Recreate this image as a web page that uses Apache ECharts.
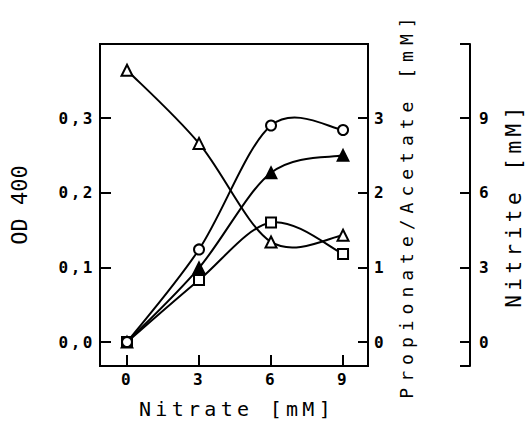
<!DOCTYPE html>
<html>
<head>
<meta charset="utf-8">
<script src="https://cdn.jsdelivr.net/npm/echarts@6/dist/echarts.min.js"></script>
<style>
    html, body { margin: 0; padding: 0; background: #fff; }
    #chart1 { width: 532px; height: 422px; }
    /* the scanned figure uses a wide plotter lettering */
    #chart1 text[style*="16px"] { letter-spacing: 2.5px; }
    #chart1 text[style*="20px"] { letter-spacing: 4.3px; }
    #chart1 text[style*="21px"] { letter-spacing: 4.5px; }
    #chart1 text[style*="18px"] { letter-spacing: 6px; }
</style>
</head>
<body>
<div id="chart1"></div>
<script>
var nitrate = [0, 3, 6, 9]
var od400 = [0, 0.124, 0.29, 0.284]          // open circles, OD 400
var propionate = [3.64, 2.66, 1.34, 1.43]    // open triangles, mM
var acetate = [0, 0.83, 1.6, 1.18]           // open squares, mM
var nitrite = [0, 2.98, 6.8, 7.5]            // filled triangles, mM

var xTicks = [0, 3, 6, 9]
var odTicks = [0, 0.1, 0.2, 0.3]
var acidTicks = [0, 1, 2, 3]
var nitriteTicks = [0, 3, 6, 9]

var FONT = 'DejaVu Sans Mono'

function pairs (ys) {
    return nitrate.map(function (x, i) { return [x, ys[i]] })
}

// hand drawn looking spline through the measured points (catmull-rom -> bezier)
function curveSeries (ys, yAxisIndex) {
    return {
        type: 'custom',
        yAxisIndex: yAxisIndex,
        silent: true,
        z: 1,
        data: pairs(ys),
        encode: { x: 0, y: 1 },
        renderItem: function (params, api) {
            if (params.dataIndex !== 0) return
            var p = nitrate.map(function (x, i) { return api.coord([x, ys[i]]) })
            var n = p.length
            var children = []
            for (var i = 0; i < n - 1; i++) {
                var p0 = p[Math.max(i - 1, 0)]
                var p1 = p[i]
                var p2 = p[i + 1]
                var p3 = p[Math.min(i + 2, n - 1)]
                children.push({
                    type: 'bezierCurve',
                    shape: {
                        x1: p1[0], y1: p1[1],
                        x2: p2[0], y2: p2[1],
                        cpx1: p1[0] + (p2[0] - p0[0]) / 6,
                        cpy1: p1[1] + (p2[1] - p0[1]) / 6,
                        cpx2: p2[0] - (p3[0] - p1[0]) / 6,
                        cpy2: p2[1] - (p3[1] - p1[1]) / 6
                    },
                    style: { stroke: '#000', lineWidth: 2, fill: null }
                })
            }
            return { type: 'group', children: children }
        }
    }
}

function markSeries (name, ys, yAxisIndex, symbol, size) {
    return {
        name: name,
        type: 'scatter',
        yAxisIndex: yAxisIndex,
        symbol: symbol,
        symbolSize: size,
        z: 3,
        itemStyle: { color: '#000', borderColor: '#000', borderWidth: 1.8, opacity: 1 },
        data: pairs(ys)
    }
}

function _initChart () {
    var myChart = echarts.init(document.getElementById('chart1'), null, { renderer: 'svg' })
    var tickLabel = { fontFamily: FONT, fontSize: 16, fontWeight: 'bold', color: '#000' }
    var line = { color: '#000', width: 2 }
    var option = {
        animation: false,
        backgroundColor: '#fff',
        grid: {
            show: true,
            left: 100,
            top: 44,
            right: 164,
            bottom: 56,
            outerBoundsMode: 'none',
            containLabel: false,
            borderColor: '#000',
            borderWidth: 2
        },
        xAxis: {
            type: 'value',
            min: -1.125,
            max: 10.04,
            name: 'Nitrate [mM]',
            nameLocation: 'middle',
            nameGap: 33,
            nameTextStyle: { fontFamily: FONT, fontSize: 20, color: '#000', padding: [0, 0, 0, 6] },
            axisLine: { onZero: false, lineStyle: line },
            axisTick: { inside: true, length: 11, lineStyle: line, customValues: xTicks },
            axisLabel: Object.assign({ margin: 5, customValues: xTicks }, tickLabel),
            splitLine: { show: false }
        },
        yAxis: [{
            type: 'value',
            position: 'left',
            min: -0.0321,
            max: 0.3991,
            name: 'OD 400',
            nameLocation: 'middle',
            nameRotate: 90,
            nameGap: 70,
            nameTextStyle: { fontFamily: FONT, fontSize: 22, color: '#000' },
            axisLine: { show: true, onZero: false, lineStyle: line },
            axisTick: { inside: true, length: 11, lineStyle: line, customValues: odTicks },
            axisLabel: Object.assign({
                margin: 5,
                customValues: odTicks,
                formatter: function (v) { return v.toFixed(1).replace('.', ',') }
            }, tickLabel),
            splitLine: { show: false }
        }, {
            type: 'value',
            position: 'right',
            min: -0.321,
            max: 3.991,
            name: 'Propionate/Acetate [mM]',
            nameLocation: 'middle',
            nameRotate: 90,
            nameGap: 29,
            nameTextStyle: { fontFamily: FONT, fontSize: 18, color: '#000' },
            axisLine: { show: true, onZero: false, lineStyle: line },
            axisTick: { inside: true, length: 10, lineStyle: line, customValues: acidTicks },
            axisLabel: Object.assign({ margin: 6, customValues: acidTicks }, tickLabel),
            splitLine: { show: false }
        }, {
            type: 'value',
            position: 'right',
            offset: 102,
            min: -0.963,
            max: 11.973,
            name: 'Nitrite [mM]',
            nameLocation: 'middle',
            nameRotate: 90,
            nameGap: 33,
            nameTextStyle: { fontFamily: FONT, fontSize: 21, color: '#000' },
            axisLine: { show: true, onZero: false, lineStyle: line },
            // end hooks of the loose scale bar are drawn as ticks at min / max
            axisTick: { inside: true, length: 10, lineStyle: line, customValues: [-0.963, 0, 3, 6, 9, 11.973] },
            axisLabel: Object.assign({ margin: 9, customValues: nitriteTicks }, tickLabel),
            splitLine: { show: false }
        }],
        series: [
            curveSeries(propionate, 1),
            curveSeries(acetate, 1),
            curveSeries(nitrite, 2),
            curveSeries(od400, 0),
            markSeries('Propionate', propionate, 1, 'emptyTriangle', 11),
            markSeries('Acetate', acetate, 1, 'emptyRect', 10),
            markSeries('Nitrite', nitrite, 2, 'triangle', 11),
            markSeries('OD 400', od400, 0, 'emptyCircle', 10)
        ]
    }
    myChart.setOption(option)
}

_initChart()
</script>
</body>
</html>
